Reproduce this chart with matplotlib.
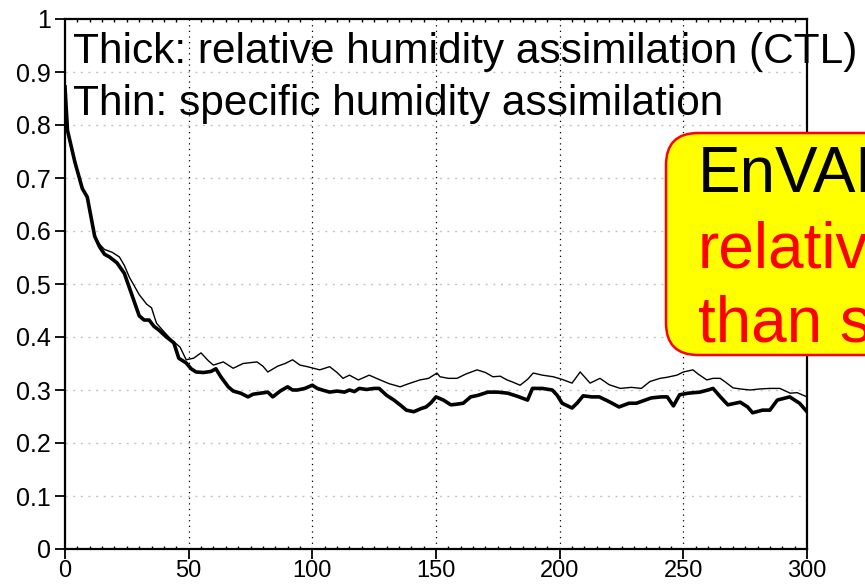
import matplotlib
matplotlib.use("Agg")
import matplotlib.pyplot as plt
from matplotlib.patches import FancyBboxPatch
from matplotlib.transforms import IdentityTransform
from matplotlib.ticker import MultipleLocator

plt.rcParams['font.family'] = ['Liberation Sans', 'DejaVu Sans']

# Thick: relative humidity assimilation (CTL)
thick_x = [0, 1, 4, 7, 9, 12, 14, 16, 18, 21, 24, 27, 30, 32, 34, 36, 38, 41, 44, 46, 49, 51, 53, 56, 59,
           61, 63, 66, 68, 71, 74, 76, 79, 82, 84, 87, 90, 92, 94, 97, 100, 102, 104, 107, 110, 113, 115,
           117, 119, 122, 125, 127, 130, 133, 136, 138, 141, 144, 146, 148, 150, 153, 156, 158, 161, 164,
           167, 171, 175, 179, 183, 187, 189, 193, 197, 199, 201, 205, 207, 209.5, 213, 216, 220, 224, 228,
           231, 234, 237, 241, 243.5, 246, 248.5, 252, 256.7, 260, 262, 265, 268, 273, 276, 278, 282, 285,
           288, 293, 297, 300]
thick_y = [0.872, 0.79, 0.73, 0.68, 0.664, 0.59, 0.57, 0.556, 0.551, 0.54, 0.52, 0.48, 0.44, 0.432, 0.432,
           0.42, 0.413, 0.40, 0.389, 0.36, 0.351, 0.34, 0.334, 0.333, 0.335, 0.34, 0.325, 0.306, 0.298,
           0.294, 0.287, 0.292, 0.294, 0.296, 0.287, 0.298, 0.306, 0.300, 0.300, 0.303, 0.309, 0.303, 0.300,
           0.296, 0.298, 0.296, 0.300, 0.297, 0.303, 0.301, 0.303, 0.303, 0.29, 0.281, 0.27, 0.262, 0.259,
           0.265, 0.268, 0.276, 0.287, 0.281, 0.272, 0.273, 0.275, 0.287, 0.290, 0.296, 0.296, 0.294, 0.288,
           0.281, 0.303, 0.303, 0.300, 0.29, 0.275, 0.266, 0.275, 0.289, 0.287, 0.287, 0.278, 0.268, 0.275,
           0.275, 0.28, 0.285, 0.287, 0.287, 0.270, 0.291, 0.294, 0.296, 0.300, 0.303, 0.287, 0.272, 0.277,
           0.268, 0.257, 0.262, 0.262, 0.281, 0.287, 0.275, 0.259]

# Thin: specific humidity assimilation
thin_x = [0, 1, 4, 7, 9, 12, 14, 16, 19, 22, 24, 26, 30, 33, 35, 36, 37, 40, 43, 46.5, 49, 52, 55, 58, 60,
          64, 68, 72, 77.6, 80, 82, 86, 89, 92, 95, 98, 103, 107, 110, 112.4, 115, 118.6, 123, 127.4, 131,
          135.5, 139, 143.5, 147, 150.4, 151.6, 155, 158.5, 162, 166.6, 170, 173, 176, 178.7, 181, 184, 187,
          189.3, 193, 197.4, 201, 205, 208.3, 212.3, 216.3, 220, 224.5, 229, 233, 236.5, 240.6, 243.4, 247.4,
          250, 253.9, 256, 259.5, 262, 264.9, 267, 270.1, 273, 277, 281, 285, 289, 293.2, 296, 300]
thin_y = [0.872, 0.79, 0.73, 0.68, 0.664, 0.59, 0.575, 0.565, 0.56, 0.551, 0.535, 0.513, 0.48, 0.462, 0.455,
          0.44, 0.426, 0.41, 0.395, 0.381, 0.357, 0.36, 0.37, 0.355, 0.347, 0.353, 0.341, 0.35, 0.353, 0.345,
          0.334, 0.345, 0.35, 0.357, 0.347, 0.344, 0.338, 0.344, 0.333, 0.322, 0.328, 0.319, 0.328, 0.319,
          0.312, 0.306, 0.312, 0.319, 0.322, 0.332, 0.325, 0.322, 0.322, 0.33, 0.338, 0.333, 0.325, 0.326,
          0.319, 0.315, 0.309, 0.32, 0.332, 0.328, 0.325, 0.32, 0.313, 0.334, 0.313, 0.322, 0.31, 0.303,
          0.305, 0.303, 0.316, 0.322, 0.324, 0.328, 0.334, 0.338, 0.33, 0.319, 0.322, 0.322, 0.315, 0.304,
          0.302, 0.300, 0.302, 0.303, 0.303, 0.294, 0.295, 0.287]

x_ticks = [0, 50, 100, 150, 200, 250, 300]
x_tick_labels = ["0", "50", "100", "150", "200", "250", "300"]
y_ticks = [0, 0.1, 0.2, 0.3, 0.4, 0.5, 0.6, 0.7, 0.8, 0.9, 1]
y_tick_labels = ["0", "0.1", "0.2", "0.3", "0.4", "0.5", "0.6", "0.7", "0.8", "0.9", "1"]

legend_lines = ["Thick: relative humidity assimilation (CTL)", "Thin: specific humidity assimilation"]
box_lines = ["EnVAR", "relative", "than s"]
box_colors = ["black", "#ff0000", "#ff0000"]

fig = plt.figure(figsize=(8.65, 5.84), dpi=100)
ax = fig.add_axes([65 / 865, 35 / 584, 742 / 865, 530 / 584])

# grid
for yv in y_ticks[1:-1]:
    ax.axhline(yv, color="#c4c4c4", lw=1.0, ls=(0, (1.5, 4)), zorder=1)
for xv in x_ticks[1:-1]:
    ax.axvline(xv, color="black", lw=0.9, ls=(0, (1, 3.5)), zorder=1)

ax.plot(thin_x, thin_y, color="black", lw=1.0, zorder=3, solid_joinstyle="round")
ax.plot(thick_x, thick_y, color="black", lw=2.6, zorder=4, solid_joinstyle="round")

ax.set_xlim(0, 300)
ax.set_ylim(0, 1)
ax.set_xticks(x_ticks)
ax.set_xticklabels(x_tick_labels)
ax.set_yticks(y_ticks)
ax.set_yticklabels(y_tick_labels)
ax.xaxis.set_minor_locator(MultipleLocator(5))
ax.tick_params(axis="both", which="major", direction="out", length=7, width=1.3,
               labelsize=18, pad=3, colors="black")
ax.tick_params(axis="x", which="major", labelsize=17, pad=1)
ax.tick_params(axis="x", which="minor", direction="in", length=2.5, width=1.0, top=True, bottom=True)
for s in ax.spines.values():
    s.set_linewidth(1.6)

# legend-like text
fig.text(73 / 865, (584 - 63) / 584, legend_lines[0], fontsize=30.5, va="baseline", ha="left", zorder=5)
fig.text(73 / 865, (584 - 115) / 584, legend_lines[1], fontsize=30.5, va="baseline", ha="left", zorder=5)

# yellow callout box (partially outside the figure)
box = FancyBboxPatch((666, 584 - 355), 260, 222,
                     boxstyle="round,pad=0,rounding_size=32",
                     transform=IdentityTransform(), facecolor="#ffff00",
                     edgecolor="#ff0000", linewidth=1.8, zorder=6)
fig.patches.append(box)

baselines = [192, 268, 342]
for txt, col, b in zip(box_lines, box_colors, baselines):
    fig.text(698 / 865, (584 - b) / 584, txt, fontsize=46, color=col, va="baseline", ha="left", zorder=7)

fig.savefig("out.png", dpi=100)
